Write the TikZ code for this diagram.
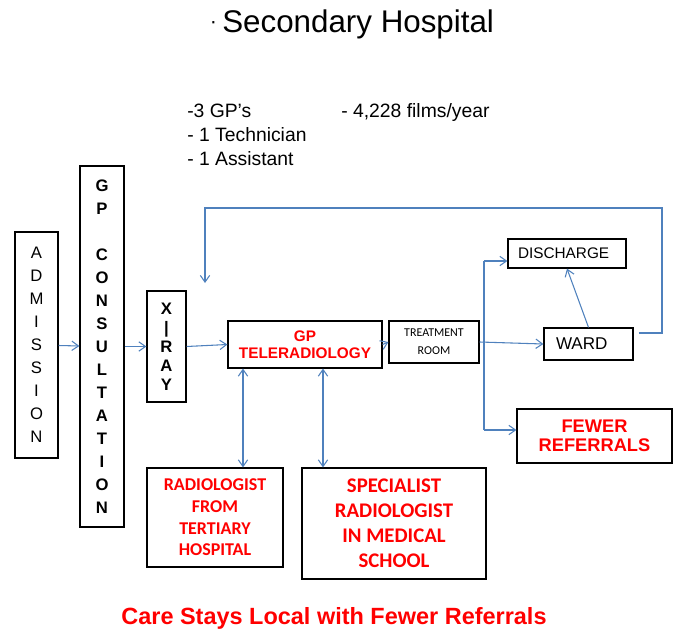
\documentclass[tikz,border=0pt]{standalone}
\usepackage{fontspec}
\setmainfont{Liberation Sans}
\newfontfamily\calibri{Carlito}
\usetikzlibrary{arrows.meta}
\definecolor{linkblue}{RGB}{79,129,189}
\definecolor{alertred}{RGB}{255,0,0}

\begin{document}
\begin{tikzpicture}[x=0.75pt, y=-0.75pt,
    box/.style={draw=black, line width=0.9pt, inner sep=0pt, align=center},
    flow/.style={draw=linkblue, line width=0.8pt, -{Straight Barb[length=5pt,width=7pt]}},
    twoway/.style={draw=linkblue, line width=0.8pt, {Straight Barb[length=5pt,width=7pt]}-{Straight Barb[length=5pt,width=7pt]}},
    note/.style={anchor=base west, inner sep=0pt, font=\fontsize{14.5}{17}\selectfont}]
            \useasboundingbox (0,0) rectangle (675,631);
            % heading and staff notes
            \node[anchor=base, inner sep=0pt, font=\fontsize{23.5}{28}\selectfont] (title) at (352,33) {\raisebox{3pt}{\fontsize{16}{16}\selectfont\textperiodcentered}\,Secondary Hospital};
            \node[note] (gps) at (187,118) {-3 GP’s};
            \node[note] (tech) at (187,142) {- 1 Technician};
            \node[note] (assist) at (187,166) {- 1 Assistant};
            \node[note] (films) at (341,118) {- 4,228 films/year};
            % boxes
            \node[box, minimum width=32.25pt, minimum height=169.5pt, font=\fontsize{12.5}{17.25}\selectfont] (admission) at (36.5,345) {A\\D\\M\\I\\S\\S\\I\\O\\N};
            \node[box, minimum width=33pt, minimum height=270.75pt, font=\bfseries\fontsize{12.5}{17.25}\selectfont] (consult) at (102,346.5) {G\\P\\[17.25pt]C\\O\\N\\S\\U\\L\\T\\A\\T\\I\\O\\N};
            \node[box, minimum width=29.25pt, minimum height=83.25pt, font=\bfseries\fontsize{12.5}{14.25}\selectfont] (xray) at (166.5,346.5) {X\\|\\R\\A\\Y};
            \node[box, minimum width=115.5pt, minimum height=35.25pt, text=alertred, font=\bfseries\fontsize{11.5}{12.75}\selectfont] (tele) at (305,344.5) {GP\\TELERADIOLOGY};
            \node[box, minimum width=67.5pt, minimum height=31.5pt, font=\calibri\fontsize{9}{13.5}\selectfont] (treat) at (434,342) {TREATMENT\\ROOM};
            \node[box, inner xsep=7.5pt, text width=73.5pt, align=left, minimum height=21.75pt, font=\fontsize{11.5}{13}\selectfont] (discharge) at (567,253.5) {DISCHARGE};
            \node[box, inner xsep=9pt, text width=48.75pt, align=left, minimum height=24pt, font=\fontsize{12.8}{14}\selectfont] (ward) at (588.5,344) {WARD};
            \node[box, minimum width=116.25pt, minimum height=40.5pt, text=alertred, font=\bfseries\fontsize{13.7}{14.5}\selectfont] (fewer) at (594.5,436) {FEWER\\REFERRALS};
            \node[box, minimum width=102pt, minimum height=74.25pt, text=alertred, font=\calibri\bfseries\fontsize{13.5}{16.3}\selectfont] (radio) at (215,517.5) {RADIOLOGIST\\FROM\\TERTIARY\\HOSPITAL};
            \node[box, minimum width=138pt, minimum height=83.25pt, text=alertred, font=\calibri\bfseries\fontsize{15.6}{18.75}\selectfont] (special) at (394,523.5) {SPECIALIST\\RADIOLOGIST\\IN MEDICAL\\SCHOOL};
            \node[anchor=base, inner sep=0pt, text=alertred, font=\bfseries\fontsize{17.6}{20}\selectfont] (caption) at (334,624) {Care Stays Local with Fewer Referrals};
            % connectors
            \draw[flow] (admission) -- (consult);
            \draw[flow] (consult) -- (xray);
            \draw[flow] (xray.east) -- (tele.west);
            \draw[flow] (tele.east) -- (treat.west);
            \draw[flow] (treat.east) -- (ward.west);
            \coordinate (splittop) at (484,261);
            \coordinate (splitbot) at (484,430);
            \draw[linkblue, line width=0.8pt] (splittop) -- (splitbot);
            \draw[flow] (splittop) -- (splittop -| discharge.west);
            \draw[flow] (splitbot) -- (splitbot -| fewer.west);
            \draw[flow] (ward.north) -- (discharge.south);
            \coordinate (loopend) at (205,283);
            \draw[flow] ([xshift=3.75pt, yshift=8.25pt]ward.east) -| (662,208) -| (loopend);
            \draw[twoway] ([xshift=-46.5pt]tele.south) -- ([xshift=-46.5pt]tele.south |- radio.north);
            \draw[twoway] ([xshift=13.5pt]tele.south) -- ([xshift=13.5pt]tele.south |- special.north);
        \end{tikzpicture}
\end{document}
